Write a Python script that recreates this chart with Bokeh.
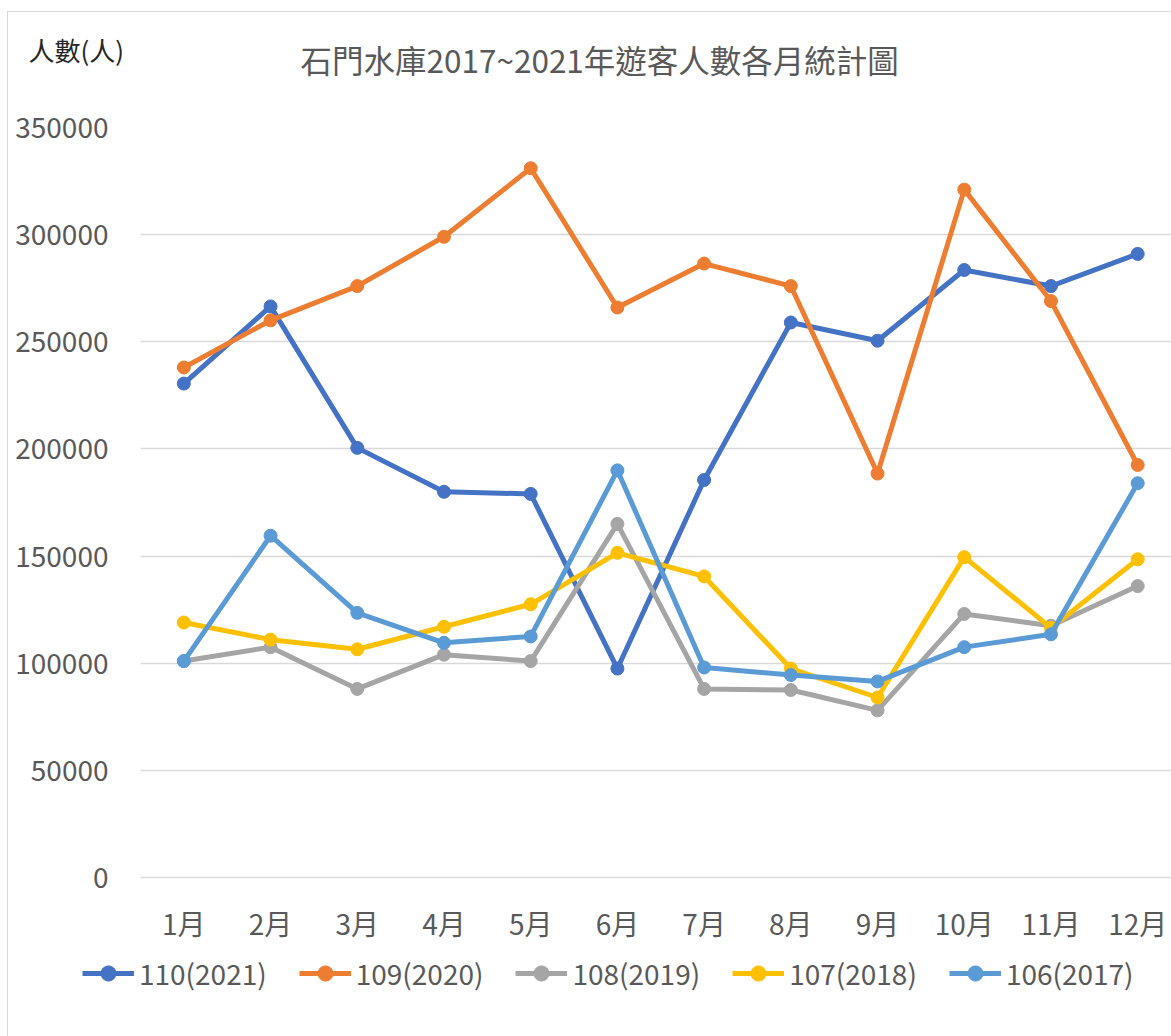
from bokeh.plotting import figure
from bokeh.models import Range1d, FixedTicker, Legend, LegendItem, Label, NumeralTickFormatter
from bokeh.embed import file_html
from bokeh.resources import INLINE

months = ["1月", "2月", "3月", "4月", "5月", "6月", "7月", "8月", "9月", "10月", "11月", "12月"]
series_names = ["110(2021)", "109(2020)", "108(2019)", "107(2018)", "106(2017)"]
v2021 = [230500, 266500, 200500, 180000, 179000, 97500, 185500, 259000, 250500, 283500, 276000, 291000]
v2020 = [238000, 260000, 276000, 299000, 331000, 266000, 286500, 276000, 188500, 321000, 269000, 192500]
v2019 = [101000, 107500, 88000, 104000, 101000, 165000, 88000, 87500, 78000, 123000, 117500, 136000]
v2018 = [119000, 111000, 106500, 117000, 127500, 151500, 140500, 97500, 84000, 149500, 116500, 148500]
v2017 = [101000, 159500, 123500, 109500, 112500, 190000, 98000, 94500, 91500, 107500, 113500, 184000]
y_ticks = [0, 50000, 100000, 150000, 200000, 250000, 300000, 350000]
colors = ["#4472C4", "#ED7D31", "#A5A5A5", "#FFC000", "#5B9BD5"]
title_text = "石門水庫2017~2021年遊客人數各月統計圖"
y_label_text = "人數(人)"

FONT = "Noto Sans CJK TC"
GRAY_TXT = "#595959"
EDGE = "#D9D9D9"

xs = list(range(len(months)))
series = [v2021, v2020, v2019, v2018, v2017]

# ---------------- main chart ----------------
p = figure(width=1171, height=950, output_backend="svg", toolbar_location=None,
           x_range=Range1d(-0.5, 11.39), y_range=Range1d(-933, 350000),
           min_border_left=140, min_border_right=0, min_border_top=127, min_border_bottom=71)
p.outline_line_color = None
p.background_fill_alpha = 0
p.border_fill_alpha = 0
# thin light-grey chart-area border (left and top edges)
p.styles = {"background": f"linear-gradient({EDGE},{EDGE}) 7px 11px / 1px 100% no-repeat, "
                          f"linear-gradient({EDGE},{EDGE}) 7px 11px / 100% 1px no-repeat, white"}

p.title.text = title_text
p.title.text_font = FONT
p.title.text_font_size = "31.5px"
p.title.text_font_style = "normal"
p.title.text_color = GRAY_TXT
p.title.align = "left"
p.title.offset = 160
p.title.standoff = 17

p.xaxis.ticker = FixedTicker(ticks=xs)
p.xaxis.major_label_overrides = {i: m for i, m in enumerate(months)}
p.yaxis.ticker = FixedTicker(ticks=y_ticks)
p.yaxis.formatter = NumeralTickFormatter(format="0")
for ax in (p.xaxis[0], p.yaxis[0]):
    ax.axis_line_color = None
    ax.major_tick_line_color = None
    ax.minor_tick_line_color = None
    ax.major_tick_out = 0
    ax.major_tick_in = 0
    ax.major_label_text_font = FONT
    ax.major_label_text_font_size = "28px"
    ax.major_label_text_color = GRAY_TXT
p.yaxis.major_label_standoff = 32
p.xaxis.major_label_standoff = 23

p.xgrid.grid_line_color = None
p.ygrid.ticker = FixedTicker(ticks=y_ticks)
p.ygrid.grid_line_color = EDGE
p.ygrid.grid_line_width = 1.5

for vals, c in zip(series, colors):
    p.line(xs, vals, line_color=c, line_width=5, line_join="round")
    p.scatter(xs, vals, size=13, fill_color=c, line_color=c)

ylab = Label(x=-112, y=78, x_units="screen", y_units="screen", text=y_label_text,
             text_font=FONT, text_font_size="26px", text_color="#262626",
             text_baseline="middle", text_align="left")
p.add_layout(ylab, "above")

# ---------------- legend strip (separate root, no frame alignment) ----------------
lg = figure(width=1171, height=86, output_backend="svg", toolbar_location=None,
            x_range=Range1d(0, 1), y_range=Range1d(0, 1),
            x_axis_type=None, y_axis_type=None,
            min_border_left=0, min_border_right=0, min_border_top=0, min_border_bottom=0)
lg.outline_line_color = None
lg.background_fill_alpha = 0
lg.border_fill_alpha = 0
lg.styles = {"background": f"linear-gradient({EDGE},{EDGE}) 7px 0px / 1px 100% no-repeat, white"}
lg.xgrid.visible = False
lg.ygrid.visible = False

nan = float("nan")
items = []
for name, c in zip(series_names, colors):
    l = lg.line(x=[nan], y=[nan], line_color=c, line_width=5)
    s = lg.scatter(x=[nan], y=[nan], size=13, fill_color=c, line_color=c)
    items.append(LegendItem(label=name, renderers=[l, s]))

legend = Legend(items=items, orientation="horizontal", location=(82, 43),
                glyph_width=52, glyph_height=38, label_standoff=5, spacing=32,
                padding=0, margin=0, border_line_color=None, background_fill_alpha=0,
                label_text_font=FONT, label_text_font_size="28px", label_text_color=GRAY_TXT)
lg.add_layout(legend, "center")

open("out.html", "w").write(file_html([p, lg], INLINE))
